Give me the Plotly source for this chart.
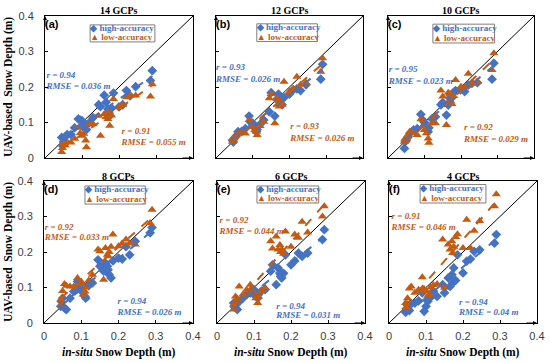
import numpy as np
import plotly.graph_objects as go

# ---------------- data ----------------
IN_SITU = [0.045, 0.047, 0.05, 0.055, 0.06, 0.07, 0.08, 0.09, 0.095, 0.10, 0.105,
           0.11, 0.112, 0.12, 0.13, 0.145, 0.15, 0.16, 0.165, 0.17, 0.172, 0.175,
           0.18, 0.185, 0.20, 0.21, 0.22, 0.23, 0.245, 0.285, 0.29]

A_HIGH = [0.058, 0.035, 0.045, 0.060, 0.066, 0.066, 0.085, 0.110, 0.107, 0.105, 0.085,
          0.094, 0.080, 0.100, 0.114, 0.150, 0.145, 0.177, 0.157, 0.138, 0.127, 0.119,
          0.140, 0.183, 0.144, 0.150, 0.190, 0.175, 0.201, 0.218, 0.246]
A_LOW = [0.017, 0.028, 0.040, 0.035, 0.045, 0.044, 0.054, 0.085, 0.070, 0.063, 0.068,
         0.049, 0.030, 0.095, 0.096, 0.119, 0.063, 0.124, 0.115, 0.110, 0.129, 0.091,
         0.120, 0.166, 0.143, 0.150, 0.171, 0.176, 0.176, 0.173, 0.208]

B_HIGH = [0.050, 0.045, 0.055, 0.062, 0.074, 0.075, 0.083, 0.118, 0.100, 0.098, 0.085,
          0.074, 0.080, 0.095, 0.107, 0.130, 0.184, 0.118, 0.165, 0.180, 0.160, 0.173,
          0.150, 0.170, 0.180, 0.192, 0.195, 0.190, 0.206, 0.222, 0.264]
B_LOW = [0.046, 0.052, 0.060, 0.065, 0.069, 0.072, 0.069, 0.107, 0.090, 0.088, 0.078,
         0.074, 0.065, 0.090, 0.102, 0.168, 0.180, 0.098, 0.168, 0.163, 0.145, 0.159,
         0.150, 0.215, 0.187, 0.195, 0.229, 0.206, 0.212, 0.243, 0.281]

C_HIGH = [0.027, 0.046, 0.050, 0.060, 0.070, 0.079, 0.083, 0.123, 0.107, 0.100, 0.088,
          0.074, 0.085, 0.110, 0.116, 0.150, 0.156, 0.121, 0.149, 0.168, 0.175, 0.170,
          0.185, 0.190, 0.196, 0.187, 0.205, 0.210, 0.212, 0.222, 0.267]
C_LOW = [0.046, 0.055, 0.050, 0.062, 0.075, 0.070, 0.065, 0.109, 0.090, 0.079, 0.070,
         0.055, 0.043, 0.098, 0.098, 0.190, 0.173, 0.093, 0.184, 0.180, 0.160, 0.152,
         0.175, 0.220, 0.201, 0.200, 0.237, 0.210, 0.215, 0.248, 0.295]

D_HIGH = [0.047, 0.060, 0.070, 0.042, 0.038, 0.070, 0.089, 0.117, 0.099, 0.110, 0.085,
          0.075, 0.070, 0.105, 0.113, 0.178, 0.160, 0.146, 0.169, 0.160, 0.150, 0.136,
          0.127, 0.175, 0.183, 0.180, 0.215, 0.192, 0.230, 0.254, 0.269]
D_LOW = [0.066, 0.052, 0.090, 0.110, 0.105, 0.103, 0.103, 0.127, 0.110, 0.117, 0.080,
         0.089, 0.100, 0.120, 0.136, 0.207, 0.202, 0.122, 0.211, 0.192, 0.188, 0.200,
         0.215, 0.249, 0.216, 0.225, 0.235, 0.225, 0.221, 0.282, 0.319]

E_HIGH = [0.056, 0.045, 0.050, 0.038, 0.060, 0.070, 0.080, 0.085, 0.094, 0.094, 0.075,
          0.070, 0.080, 0.090, 0.094, 0.146, 0.164, 0.108, 0.155, 0.141, 0.131, 0.127,
          0.140, 0.192, 0.164, 0.175, 0.197, 0.188, 0.197, 0.235, 0.263]
E_LOW = [0.052, 0.038, 0.075, 0.068, 0.103, 0.080, 0.094, 0.108, 0.085, 0.085, 0.070,
         0.056, 0.075, 0.090, 0.099, 0.230, 0.210, 0.244, 0.207, 0.220, 0.200, 0.207,
         0.195, 0.258, 0.215, 0.249, 0.240, 0.285, 0.255, 0.300, 0.329]

F_HIGH = [0.030, 0.040, 0.050, 0.035, 0.054, 0.056, 0.062, 0.085, 0.033, 0.047, 0.061,
          0.070, 0.075, 0.090, 0.075, 0.108, 0.085, 0.127, 0.103, 0.136, 0.113, 0.155,
          0.120, 0.192, 0.141, 0.174, 0.180, 0.202, 0.206, 0.225, 0.249]
F_LOW = [0.056, 0.045, 0.070, 0.097, 0.103, 0.085, 0.094, 0.129, 0.096, 0.090, 0.077,
         0.080, 0.100, 0.107, 0.110, 0.235, 0.099, 0.221, 0.207, 0.230, 0.197, 0.215,
         0.242, 0.250, 0.211, 0.291, 0.211, 0.260, 0.287, 0.329, 0.363]

TITLES = ["14 GCPs", "12 GCPs", "10 GCPs", "8 GCPs", "6 GCPs", "4 GCPs"]
LABELS = ["(a)", "(b)", "(c)", "(d)", "(e)", "(f)"]
R_HIGH = ["0.94", "0.93", "0.95", "0.94", "0.94", "0.94"]
RMSE_HIGH = ["0.036", "0.026", "0.023", "0.026", "0.031", "0.04"]
R_LOW = ["0.91", "0.93", "0.92", "0.92", "0.92", "0.91"]
RMSE_LOW = ["0.055", "0.026", "0.029", "0.033", "0.044", "0.046"]
TICKS = [0, 0.1, 0.2, 0.3, 0.4]
TICK_TEXT = ["0", "0.1", "0.2", "0.3", "0.4"]

HIGH = [A_HIGH, B_HIGH, C_HIGH, D_HIGH, E_HIGH, F_HIGH]
LOW = [A_LOW, B_LOW, C_LOW, D_LOW, E_LOW, F_LOW]

# ---------------- styling / layout ----------------
BLUE = "#4472C4"
ORANGE = "#C55A11"
W, H = 550, 362
SERIF = "Liberation Serif"
SANS = "Liberation Sans"

# pixel boxes of each panel: (left, right, top, bottom)
BOXES = [(45, 193, 16, 158), (216, 363, 16, 158), (388, 534, 16, 158),
         (44, 193, 181, 323), (217, 365, 181, 323), (389, 537, 181, 323)]

# text positions (data coords): (x, y_r, y_rmse) for high and low labels
HIGH_TXT = [(0.004, 0.232, 0.200), (0.0, 0.253, 0.220), (0.002, 0.248, 0.215),
            (0.197, 0.061, 0.028), (0.160, 0.047, 0.021), (0.189, 0.056, 0.028)]
LOW_TXT = [(0.207, 0.075, 0.044), (0.202, 0.088, 0.055), (0.208, 0.084, 0.051),
           (0.002, 0.268, 0.239), (0.007, 0.288, 0.258), (0.007, 0.298, 0.268)]
LEG_BOX = [(0.122, 0.297, 0.327, 0.375), (0.111, 0.276, 0.328, 0.378),
           (0.123, 0.292, 0.324, 0.377), (0.110, 0.272, 0.335, 0.386),
           (0.108, 0.275, 0.338, 0.386), (0.084, 0.262, 0.338, 0.390)]

fig = go.Figure()
annotations = []
shapes = []
x_arr = np.array(IN_SITU)


def add_text(xa, ya, x, y, text, size, color, family=SERIF):
    fig.add_trace(go.Scatter(x=[x], y=[y], mode="text", text=[text],
                             textposition="middle right", cliponaxis=False,
                             textfont=dict(family=family, size=size, color=color),
                             xaxis=xa, yaxis=ya, showlegend=False, hoverinfo="skip"))


for i in range(6):
    n = i + 1
    xa = "x" if n == 1 else f"x{n}"
    ya = "y" if n == 1 else f"y{n}"
    l, r, t, b = BOXES[i]
    bottom_row = i >= 3
    left_col = i in (0, 3)

    fig.update_layout(**{
        f"xaxis{'' if n == 1 else n}": dict(
            domain=[l / W, r / W], range=[0, 0.4], anchor=ya, automargin=False,
            tickvals=TICKS, ticktext=TICK_TEXT, showticklabels=bottom_row,
            ticks="inside", ticklen=3, tickcolor="black",
            showline=True, mirror=True, linecolor="black", linewidth=1,
            showgrid=False, zeroline=False, ticklabelstandoff=3,
            tickfont=dict(family=SANS, size=11, color="#404040")),
        f"yaxis{'' if n == 1 else n}": dict(
            domain=[1 - b / H, 1 - t / H], range=[0, 0.4], anchor=xa, automargin=False,
            tickvals=TICKS, ticktext=TICK_TEXT, showticklabels=left_col,
            ticks="inside", ticklen=3, tickcolor="black",
            showline=True, mirror=True, linecolor="black", linewidth=1,
            showgrid=False, zeroline=False, ticklabelstandoff=8,
            tickfont=dict(family=SANS, size=11, color="#404040")),
    })

    # 1:1 line
    fig.add_trace(go.Scatter(x=[TICKS[0], TICKS[-1]], y=[TICKS[0], TICKS[-1]],
                             mode="lines", line=dict(color="black", width=1),
                             xaxis=xa, yaxis=ya, showlegend=False, hoverinfo="skip"))

    hy = np.array(HIGH[i])
    ly = np.array(LOW[i])
    fig.add_trace(go.Scatter(x=IN_SITU, y=HIGH[i], mode="markers",
                             marker=dict(symbol="diamond", size=7.5, color=BLUE),
                             xaxis=xa, yaxis=ya, showlegend=False))
    fig.add_trace(go.Scatter(x=IN_SITU, y=LOW[i], mode="markers",
                             marker=dict(symbol="triangle-up", size=8, color=ORANGE),
                             xaxis=xa, yaxis=ya, showlegend=False))
    # regression lines
    xs = np.array([x_arr.min(), x_arr.max()])
    for yy, col in ((hy, BLUE), (ly, ORANGE)):
        k, c = np.polyfit(x_arr, yy, 1)
        fig.add_trace(go.Scatter(x=xs, y=k * xs + c, mode="lines",
                                 line=dict(color=col, width=2, dash="dash"),
                                 xaxis=xa, yaxis=ya, showlegend=False, hoverinfo="skip"))

    # title
    annotations.append(dict(text=f"<b>{TITLES[i]}</b>", x=(l + r) / 2 / W, y=1 - (t - 5) / H,
                            xref="paper", yref="paper", showarrow=False, xanchor="center",
                            yanchor="middle", font=dict(family=SERIF, size=10, color="black")))
    # panel label
    add_text(xa, ya, 0.0, 0.373, f"<b>{LABELS[i]}</b>", 11, "black", SANS)
    # stats
    for (tx, yr, yrm), rv, rm, col in ((HIGH_TXT[i], R_HIGH[i], RMSE_HIGH[i], BLUE),
                                        (LOW_TXT[i], R_LOW[i], RMSE_LOW[i], ORANGE)):
        add_text(xa, ya, tx, yr, f"<b><i>r = {rv}</i></b>", 9, col)
        add_text(xa, ya, tx, yrm, f"<b><i>RMSE = {rm} m</i></b>", 9, col)
    # legend box
    x0, x1, y0, y1 = LEG_BOX[i]
    shapes.append(dict(type="rect", xref=xa, yref=ya, x0=x0, x1=x1, y0=y0, y1=y1,
                       line=dict(color="#7f7f7f", width=1), fillcolor="white", layer="below"))
    add_text(xa, ya, x0, y1 - 0.012, "<b>◆ high-accuracy</b>", 9, BLUE)
    add_text(xa, ya, x0, y0 + 0.012, "<b>▲ low-accuracy</b>", 9, ORANGE)
    # axis arrows
    annotations.append(dict(x=0, y=0.4, xref=xa, yref=ya, ax=0, ay=12, text="",
                            showarrow=True, arrowhead=2, arrowsize=0.8, arrowwidth=1,
                            arrowcolor="black"))
    annotations.append(dict(x=0.4, y=0, xref=xa, yref=ya, ax=-12, ay=0, text="",
                            showarrow=True, arrowhead=2, arrowsize=0.8, arrowwidth=1,
                            arrowcolor="black"))

# y-axis titles
for (l, r, t, b) in (BOXES[0], BOXES[3]):
    annotations.append(dict(text="<b>UAV-based  Snow Depth (m)</b>", x=8 / W,
                            y=1 - (t + b) / 2 / H, xref="paper", yref="paper",
                            showarrow=False, textangle=-90, xanchor="center", yanchor="middle",
                            font=dict(family=SERIF, size=11.5, color="black")))
# x-axis titles
for (l, r, t, b) in BOXES[3:]:
    annotations.append(dict(text="<b><i>in-situ</i> Snow Depth (m)</b>", x=(l + r) / 2 / W,
                            y=1 - 352 / H, xref="paper", yref="paper", showarrow=False,
                            xanchor="center", yanchor="middle",
                            font=dict(family=SERIF, size=11.5, color="black")))

fig.update_layout(width=W, height=H, margin=dict(l=0, r=0, t=0, b=0),
                  paper_bgcolor="white", plot_bgcolor="white", showlegend=False,
                  annotations=annotations, shapes=shapes)

fig.write_html("out.html", config={"displayModeBar": False},
               post_script="document.body.style.margin='0px';document.body.style.padding='0px';")
